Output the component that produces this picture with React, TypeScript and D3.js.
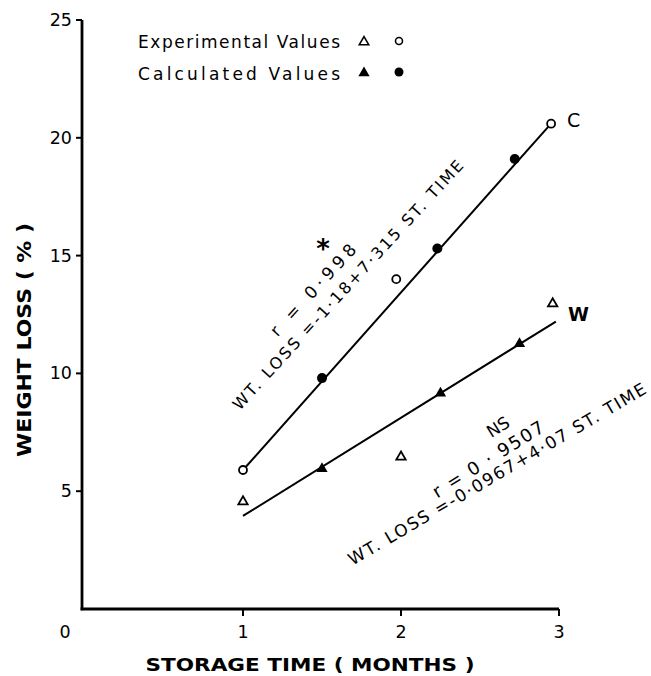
import React from "react";
import * as d3 from "d3";

// ---- data ----
const xTicks = [1, 2, 3];
const yTicks = [5, 10, 15, 20, 25];

// Control (C) series
const cExpT = [1, 1.97, 2.95];
const cExpY = [5.9, 14.0, 20.6];
const cCalcT = [1.5, 2.23, 2.72];
const cCalcY = [9.8, 15.3, 19.1];
const cLineT = [1, 2.95];
const cLineY = [5.9, 20.6];

// W series
const wExpT = [1, 2.0, 2.96];
const wExpY = [4.6, 6.5, 13.0];
const wCalcT = [1.5, 2.25, 2.75];
const wCalcY = [6.0, 9.2, 11.3];
const wLineT = [1, 2.98];
const wLineY = [3.95, 12.2];

const W = 651;
const H = 676;
const FONT = "'DejaVu Sans', sans-serif";

export default function App() {
  const x = d3.scaleLinear().domain([0, 3]).range([85, 559]);
  const y = d3.scaleLinear().domain([0, 25]).range([609, 20]);
  const axisX = 82;

  const line = d3
    .line<[number, number]>()
    .x((d) => x(d[0]))
    .y((d) => y(d[1]));

  const cLine = cLineT.map((t, i) => [t, cLineY[i]] as [number, number]);
  const wLine = wLineT.map((t, i) => [t, wLineY[i]] as [number, number]);

  const triOpen = d3.symbol(d3.symbolTriangle, 38)()!;
  const triFill = d3.symbol(d3.symbolTriangle, 55)()!;

  return (
    <svg
      width={W}
      height={H}
      style={{ position: "absolute", left: 0, top: 0, background: "#fff" }}
      fontFamily={FONT}
    >
      <rect width={W} height={H} fill="#fff" />
      {/* axes */}
      <line x1={axisX} x2={axisX} y1={y(25)} y2={y(0) + 1.2} stroke="#000" strokeWidth={2.8} />
      <line x1={axisX - 1.4} x2={x(3)} y1={y(0)} y2={y(0)} stroke="#000" strokeWidth={2.8} />
      {yTicks.map((v) => (
        <g key={"yt" + v}>
          <line x1={axisX - 6} x2={axisX} y1={y(v)} y2={y(v)} stroke="#000" strokeWidth={2} />
          <text x={axisX - 10} y={y(v) + 6} textAnchor="end" fontSize={17.5}>
            {v}
          </text>
        </g>
      ))}
      {xTicks.map((v) => (
        <g key={"xt" + v}>
          <line x1={x(v)} x2={x(v)} y1={y(0)} y2={y(0) + 7} stroke="#000" strokeWidth={2} />
          <text x={x(v)} y={638} textAnchor="middle" fontSize={17.5}>
            {v}
          </text>
        </g>
      ))}
      <text x={x(0) - 20} y={638} textAnchor="middle" fontSize={17.5}>
        0
      </text>

      {/* axis titles */}
      <text
        x={310}
        y={671}
        textAnchor="middle"
        fontSize={18}
        fontWeight="bold"
        textLength={329}
        lengthAdjust="spacingAndGlyphs"
      >
        STORAGE  TIME  ( MONTHS )
      </text>
      <text
        transform={`translate(31,340) rotate(-90)`}
        textAnchor="middle"
        fontSize={19}
        fontWeight="bold"
        textLength={234}
        lengthAdjust="spacingAndGlyphs"
      >
        WEIGHT  LOSS  ( % )
      </text>

      {/* legend */}
      <text x={138} y={48} fontSize={17} textLength={202} lengthAdjust="spacing">
        Experimental Values
      </text>
      <text x={138} y={80} fontSize={17} textLength={202} lengthAdjust="spacing">
        Calculated Values
      </text>
      <path d={triOpen} transform="translate(364,42)" fill="#fff" stroke="#000" strokeWidth={1.6} />
      <circle cx={399} cy={41} r={3.5} fill="#fff" stroke="#000" strokeWidth={1.6} />
      <path d={triFill} transform="translate(364,73)" fill="#000" />
      <circle cx={399} cy={72} r={4.5} fill="#000" />

      {/* regression lines */}
      <path d={line(cLine)!} fill="none" stroke="#000" strokeWidth={2} />
      <path d={line(wLine)!} fill="none" stroke="#000" strokeWidth={2} />

      {/* C points */}
      {cCalcT.map((t, i) => (
        <circle key={"cc" + i} cx={x(t)} cy={y(cCalcY[i])} r={5} fill="#000" />
      ))}
      {cExpT.map((t, i) => (
        <circle key={"ce" + i} cx={x(t)} cy={y(cExpY[i])} r={4} fill="#fff" stroke="#000" strokeWidth={1.8} />
      ))}
      {/* W points */}
      {wCalcT.map((t, i) => (
        <path key={"wc" + i} d={triFill} transform={`translate(${x(t)},${y(wCalcY[i]) + 1})`} fill="#000" />
      ))}
      {wExpT.map((t, i) => (
        <path
          key={"we" + i}
          d={triOpen}
          transform={`translate(${x(t)},${y(wExpY[i]) + 1})`}
          fill="#fff"
          stroke="#000"
          strokeWidth={1.8}
        />
      ))}

      {/* series labels */}
      <text x={567} y={127} fontSize={19}>
        C
      </text>
      <text x={568} y={321} fontSize={19} fontWeight="bold">
        W
      </text>

      {/* C annotations */}
      <text x={323} y={258} textAnchor="middle" fontSize={26} fontWeight="bold">
        *
      </text>
      <text
        transform="translate(313,290) rotate(-47.5)"
        textAnchor="middle"
        dominantBaseline="central"
        fontSize={17}
        textLength={118}
        lengthAdjust="spacing"
      >
        r = 0·998
      </text>
      <text
        transform="translate(348,285) rotate(-47.4)"
        textAnchor="middle"
        dominantBaseline="central"
        fontSize={16}
        textLength={332}
        lengthAdjust="spacing"
      >
        WT. LOSS =-1·18+7·315 ST. TIME
      </text>

      {/* W annotations */}
      <text
        transform="translate(498,427) rotate(-32)"
        textAnchor="middle"
        dominantBaseline="central"
        fontSize={17}
      >
        NS
      </text>
      <text
        transform="translate(488,459) rotate(-32)"
        textAnchor="middle"
        dominantBaseline="central"
        fontSize={18}
        textLength={128}
        lengthAdjust="spacing"
      >
        r = 0 · 9507
      </text>
      <text
        transform="translate(497,474) rotate(-30.4)"
        textAnchor="middle"
        dominantBaseline="central"
        fontSize={17}
        textLength={342}
        lengthAdjust="spacing"
      >
        WT. LOSS =-0·0967+4·07 ST. TIME
      </text>
    </svg>
  );
}
